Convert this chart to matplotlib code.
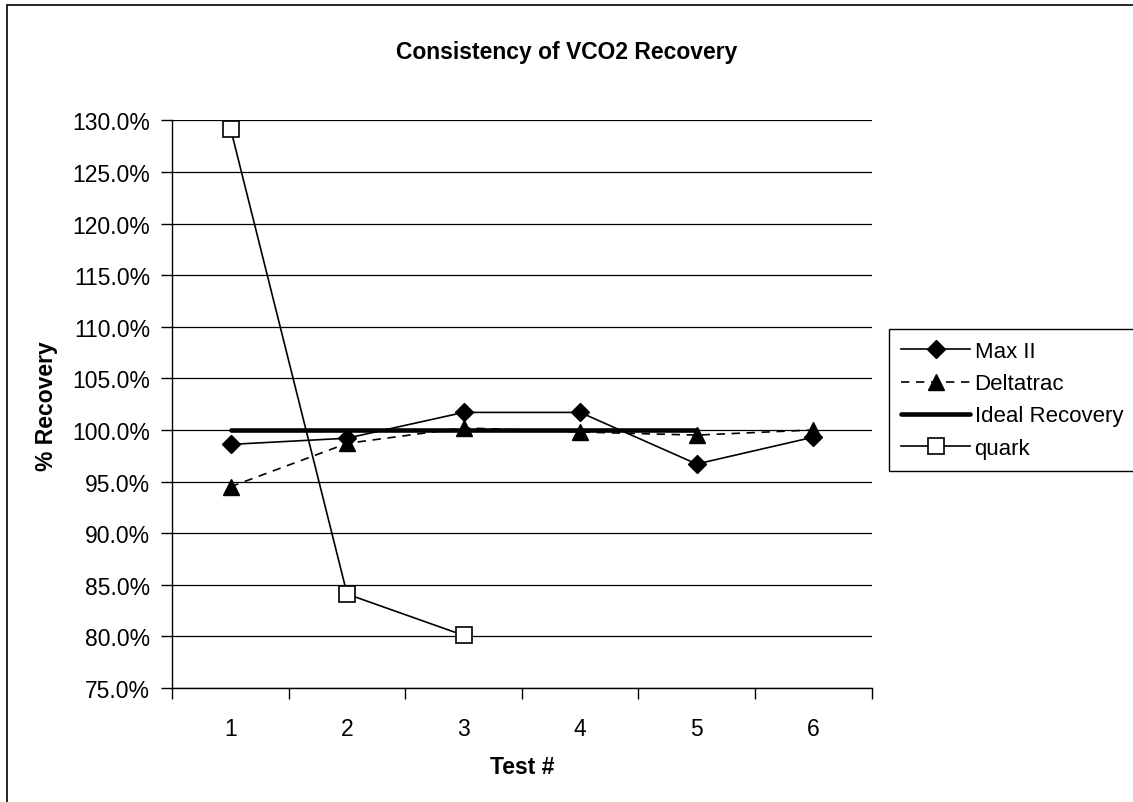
import matplotlib.pyplot as plt
import matplotlib.patches as patches
from matplotlib.ticker import FixedLocator, FuncFormatter

tests = ["1", "2", "3", "4", "5", "6"]
max_ii = [98.6, 99.2, 101.7, 101.7, 96.7, 99.3]
deltatrac = [94.5, 98.7, 100.2, 99.8, 99.5, 100.0]
ideal = [100.0, 100.0, 100.0, 100.0, 100.0]
quark = [129.2, 84.1, 80.1]

plt.rcParams['font.family'] = ['Liberation Sans', 'DejaVu Sans']

W, H = 1133, 803
fig = plt.figure(figsize=(W / 100, H / 100), dpi=100)

# outer chart border (runs off the right/bottom edge in the original)
fig.patches.append(patches.Rectangle((7 / W, -0.05), 1.2, 1 - 6 / H + 0.05, transform=fig.transFigure,
                                     fill=False, edgecolor='black', linewidth=1.2))

ax = fig.add_axes([172.3 / W, 1 - 689 / H, (871.5 - 172.3) / W, (689 - 121.3) / H])

x = list(range(len(tests)))
ax.plot(x, max_ii, c='black', linewidth=1.2, marker='D', markersize=9.5, label='Max II')
ax.plot(x, deltatrac, c='black', linewidth=1.2, linestyle=(0, (5, 4)), marker='^', markersize=11, label='Deltatrac')
ax.plot(x[:len(ideal)], ideal, c='black', linewidth=3.3, label='Ideal Recovery', solid_capstyle='round')
ax.plot(x[:len(quark)], quark, c='black', linewidth=1.2, marker='s', markersize=11,
        mfc='white', mec='black', mew=1.2, label='quark')

ax.set_xlim(-0.5, len(tests) - 0.5)
ax.set_ylim(75, 130)
ax.set_yticks([75 + 5 * i for i in range(12)])
ax.yaxis.set_major_formatter(FuncFormatter(lambda v, p: "{:.1f}%".format(v)))
ax.grid(axis='y', color='black', linewidth=0.9)
ax.set_axisbelow(True)

ax.xaxis.set_major_locator(FixedLocator([i - 0.5 for i in range(len(tests) + 1)]))
ax.xaxis.set_major_formatter(FuncFormatter(lambda v, p: ""))
ax.xaxis.set_minor_locator(FixedLocator(x))
ax.set_xticks(x, tests, minor=True)
ax.tick_params(axis='x', which='minor', length=0, pad=21, labelsize=16.5)
ax.tick_params(axis='x', which='major', length=8, width=1, direction='out')
ax.tick_params(axis='y', length=8, width=1, direction='out', pad=8, labelsize=16.5)

for s in ['top', 'right']:
    ax.spines[s].set_visible(False)
for s in ['left', 'bottom']:
    ax.spines[s].set_linewidth(1)

fig.text(0.5, 1 - 52 / H, "Consistency of VCO2 Recovery", ha='center', va='center',
         fontsize=16.5, fontweight='bold')
fig.text(47 / W, 1 - 406 / H, "% Recovery", ha='center', va='center', rotation=90,
         fontsize=16.5, fontweight='bold')
fig.text(522 / W, 1 - 768 / H, "Test #", ha='center', va='center', fontsize=16.5, fontweight='bold')

leg = ax.legend(loc='upper left', bbox_to_anchor=(889 / W, 1 - 330 / H), bbox_transform=fig.transFigure,
                fontsize=16, frameon=True, fancybox=False, edgecolor='black', framealpha=1,
                handlelength=3.1, handletextpad=0.2, borderpad=0.55, labelspacing=0.5, borderaxespad=0)
leg.get_frame().set_linewidth(1)

fig.savefig("out.png", dpi=100)
